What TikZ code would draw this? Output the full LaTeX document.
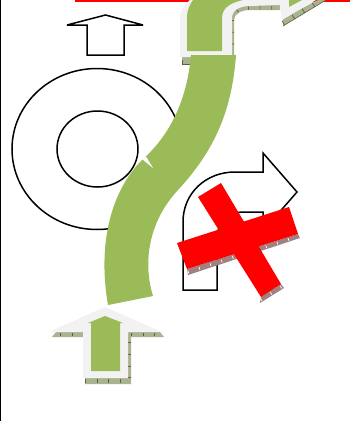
\documentclass[tikz,border=0pt]{standalone}
\usepackage{tikz}
\definecolor{leafgreen}{HTML}{9BBB59}
\definecolor{glowgray}{HTML}{F2F2F2}
\definecolor{hatchgreen}{HTML}{A9B390}
\definecolor{hatchdark}{HTML}{56633E}
\definecolor{hatchred}{HTML}{A08080}

\begin{document}
\begin{tikzpicture}[
    x=1pt, y=-1pt,
    outline/.style={draw=black, line width=1.5pt, fill=white, line join=miter, miter limit=3},
    leaf/.style={fill=leafgreen},
    glow/.style={fill=glowgray},
    redbar/.style={fill=red},
    greenshadow/.style={fill=hatchgreen},
    redshadow/.style={fill=hatchred},
    greenticks/.style={draw=hatchdark, line width=3.5pt, dash pattern=on 0.7pt off 11pt},
    redticks/.style={draw=white, line width=3pt, dash pattern=on 0.7pt off 11pt},
]

\clip (0,0) rectangle (358,421);
\fill [white] (0,0) rectangle (358,421);

\draw [line width=1.5pt] (0.4,0) -- (0.4,421);
\fill [red] (75,0) rectangle (350,1.7);

% plain up arrow
\draw [outline] (105.5,15) -- (143,25) -- (124,25) -- (124,55) -- (87,55)
    -- (87,25) -- (67,25) -- cycle;

\draw [outline] (97,149) ellipse [x radius=85, y radius=80.5];
\draw [outline] (97.5,149) ellipse [x radius=40.5, y radius=38];

% bent arrow behind the cross
\draw [outline] (183,290) -- (183,222) .. controls (183,193) and (206,172) .. (235,172)
    -- (263,172) -- (263,153) -- (297,192) -- (263,231) -- (263,212) -- (242,212)
    .. controls (227,212) and (217,224) .. (217,238) -- (217,290) -- cycle;

% top arrow
\fill [greenshadow] (182,57) rectangle (192,64);
\draw [hatchdark, line width=0.6pt] (182,60) -- (182,64) -- (192,64);
\fill [greenshadow] (230,57) -- (230,18) .. controls (231,9) and (240,5) .. (250,5)
    -- (280,5) -- (280,10) -- (250,10) .. controls (241,10) and (234,14) .. (234,20)
    -- (234,57) -- cycle;
\draw [greenticks, line width=4pt] (232,56) -- (232,19) .. controls (233,11) and (241,7.5) .. (250,7.5) -- (280,7.5);
\fill [greenshadow] (283,18) -- (318,0) -- (326,0) -- (283,26) -- cycle;
\draw [greenticks, line width=5pt] (283,23) -- (318,2);
\draw [hatchdark, line width=0.6pt] (283,26) -- (326,0);
\path [glow] (180,57) -- (180,18) .. controls (180,10) and (186,3) .. (190,0)
    -- (316,0) -- (282,20) -- (280,5) -- (250,6) .. controls (240,6) and (232,10) .. (232,18)
    -- (232,57) -- cycle;
\path [leaf] (187,51) -- (187,18) .. controls (187,10) and (190,4) .. (193,0)
    -- (243,0) .. controls (230,3) and (222,8) .. (222,18) -- (222,51) -- cycle;
\path [leaf] (289,0) -- (289,7) -- (302,0) -- cycle;

% bottom arrow
\fill [greenshadow] (52,337) -- (56,332) -- (83,332) -- (83,337) -- cycle;
\fill [greenshadow] (128,332) -- (160,332) -- (164,337) -- (131,337) -- (131,384)
    -- (85,384) -- (85,378) -- (128,378) -- cycle;
\draw [greenticks] (60,334.5) -- (83,334.5);
\draw [greenticks] (131,334.5) -- (164,334.5);
\draw [greenticks] (85,381) -- (131,381);
\draw [greenticks] (129.5,378) -- (129.5,337);
\path [glow] (105,307) -- (162,332) -- (128,332) -- (128,378) -- (83,378) -- (83,332)
    -- (49,332) -- cycle;
\path [leaf] (105,316) -- (123,323) -- (120,323) -- (120,371) -- (91,371) -- (91,323)
    -- (88,323) -- cycle;

% S shaped band
\path [leaf] (191,55) .. controls (187,100) and (170,135) .. (143,159)
    .. controls (116,185) and (96,235) .. (108,305) -- (153,296)
    .. controls (142,260) and (150,220) .. (178,190)
    .. controls (215,150) and (232,110) .. (236,55) -- cycle;
\fill [white] (142,159) -- (146,156.5) -- (153,168) -- cycle;

% red cross
\fill [redshadow] (187,269) -- (188,275) -- (300,238) -- (298,234) -- cycle;
\draw [redticks] (188,272) -- (299,236);
\fill [redshadow] (261,297) -- (260,303) -- (284,288) -- (281,284) -- cycle;
\draw [redticks] (261,300) -- (282,286.5);
\path [redbar] (177,243) -- (289,207) -- (298,234) -- (187,269) -- cycle;
\path [redbar] (221,183) -- (198,197) -- (261,297) -- (281,284) -- cycle;

\end{tikzpicture}
\end{document}
